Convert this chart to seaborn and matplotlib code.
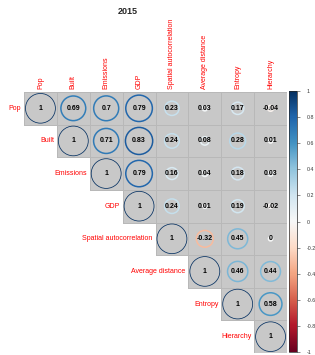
import numpy as np
import matplotlib
matplotlib.use("Agg")
import matplotlib.pyplot as plt
import seaborn as sns
from matplotlib.patches import Circle
from matplotlib.colors import ListedColormap, Normalize, to_rgba
from matplotlib.cm import ScalarMappable

variables = ["Pop", "Built", "Emissions", "GDP", "Spatial autocorrelation",
             "Average distance", "Entropy", "Hierarchy"]

# upper triangle of the 2015 correlation matrix, one row per variable
row_pop = [1, 0.69, 0.7, 0.79, 0.23, 0.03, 0.17, -0.04]
row_built = [1, 0.71, 0.83, 0.24, 0.08, 0.28, 0.01]
row_emissions = [1, 0.79, 0.16, 0.04, 0.18, 0.03]
row_gdp = [1, 0.24, 0.01, 0.19, -0.02]
row_spatial = [1, -0.32, 0.45, 0]
row_distance = [1, 0.46, 0.44]
row_entropy = [1, 0.58]
row_hierarchy = [1]

cbar_ticks = [-1, -0.8, -0.6, -0.4, -0.2, 0, 0.2, 0.4, 0.6, 0.8, 1]
cbar_labels = ["-1", "-0.8", "-0.6", "-0.4", "-0.2", "0", "0.2", "0.4", "0.6", "0.8", "1"]

rows = [row_pop, row_built, row_emissions, row_gdp, row_spatial,
        row_distance, row_entropy, row_hierarchy]
n = len(variables)
corr = np.zeros((n, n))
for i, r in enumerate(rows):
    corr[i, i:] = r
    corr[i:, i] = r

def fmt(v):
    s = f"{v:.2f}".rstrip("0").rstrip(".")
    return "0" if s in ("-0", "") else s

labels = np.array([[fmt(v) for v in r] for r in corr])
mask = np.tril(np.ones((n, n), dtype=bool), k=-1)

sns.set_style("white")
plt.rcParams["font.family"] = ["Liberation Sans", "DejaVu Sans"]

W, H = 315, 355
fig = plt.figure(figsize=(W / 100, H / 100), dpi=100)
ax = fig.add_axes([24 / W, 2 / H, 263 / W, 261 / H])

bg = ListedColormap(["#c8c8c8"])
bg.set_bad((1, 1, 1, 0))
sns.heatmap(corr, mask=mask, cmap=bg, cbar=False,
            annot=labels, fmt="", linewidths=0.7, linecolor="#b8b8b8",
            annot_kws={"color": "black", "fontweight": "bold", "fontsize": 5},
            xticklabels=False, yticklabels=False, square=False, ax=ax)

# hide the grid lines of the blank lower triangle
mesh = ax.collections[0]
edge = np.array([to_rgba("#b8b8b8", 0 if m else 1) for m in mask.ravel()])
mesh.set_edgecolor(edge)

cmap = plt.get_cmap("RdBu")
for i in range(n):
    for j in range(i, n):
        v = corr[i, j]
        rad = 0.455 * np.sqrt(max(abs(v), 0.02))
        lw = 0.55 if i == j else 1.1
        ax.add_patch(Circle((j + 0.5, i + 0.5), rad, facecolor="none",
                            edgecolor=cmap((v + 1) / 2), linewidth=lw, zorder=2))

for i, name in enumerate(variables):
    ax.text(i - 0.08, i + 0.5, name, ha="right", va="center",
            color="red", fontsize=5)
    ax.text(i + 0.5, -0.08, name, ha="center", va="bottom", rotation=90,
            color="red", fontsize=5)

fig.text(128 / W, 1 - 11 / H, "2015", ha="center", va="center",
         fontsize=6.5, fontweight="bold")

cax = fig.add_axes([289 / W, 3 / H, 8 / W, 261 / H])
cb = fig.colorbar(ScalarMappable(norm=Normalize(-1, 1), cmap=cmap), cax=cax)
cb.set_ticks(cbar_ticks)
cb.set_ticklabels(cbar_labels)
cb.outline.set_linewidth(0.5)
cax.tick_params(labelsize=3.8, length=2, width=0.4, pad=5, colors="#333333")

fig.savefig("out.png", dpi=100)
